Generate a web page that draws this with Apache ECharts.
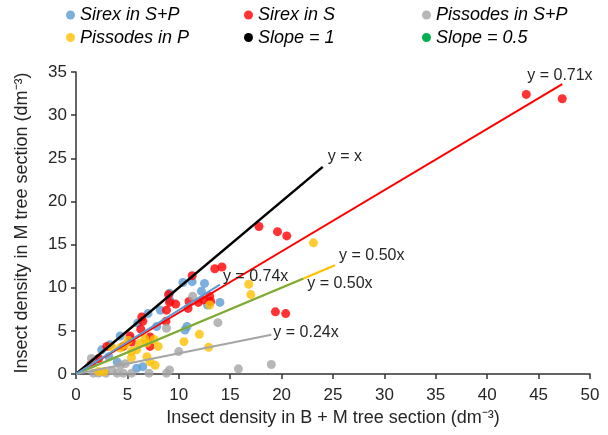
<!DOCTYPE html>
<html>
<head>
<meta charset="utf-8">
<script src="https://cdn.jsdelivr.net/npm/echarts@6/dist/echarts.min.js"></script>
<style>
  html, body { margin: 0; padding: 0; background: #fff; }
  #chart { width: 608px; height: 435px; }
</style>
</head>
<body>
<div id="chart"></div>
<script>
// points: [x, y]
var sirexSP = [[12.5,10.5],[14.0,8.3],[12.8,8.0],[11.3,10.7],[10.4,10.6],[9.1,9.35],[9.15,8.5],[8.2,7.4],
  [7.85,5.5],[10.8,5.5],[10.6,5.1],[5.25,4.1],[4.3,4.4],[3.3,3.4],[2.5,2.8],[4.0,1.4],[5.9,0.66],[6.5,0.85],
  [12.2,9.6],[7.0,7.0],[6.0,5.9],[1.8,1.5],[3.2,2.0]];
var sirexS = [[43.8,32.4],[47.3,31.9],[17.8,17.1],[19.6,16.5],[20.5,16.0],[19.4,7.2],[20.4,7.0],[13.5,12.2],
  [14.2,12.4],[11.3,11.4],[13.0,9.0],[13.1,8.4],[11.9,8.3],[11.0,8.4],[9.7,8.1],[9.1,8.3],[8.8,7.4],[9.0,9.2],
  [8.75,6.1],[6.4,6.6],[6.5,6.1],[6.3,5.2],[5.25,4.4],[5.4,3.7],[7.2,4.3],[7.2,3.2],[4.6,3.2],[3.0,3.2],
  [1.5,1.2],[2.2,1.8],[10.9,7.6],[12.4,8.6]];
var pissodesSP = [[19.0,1.1],[15.8,0.6],[13.8,5.95],[11.35,9.0],[10.0,2.6],[8.8,5.3],[4.8,1.2],[4.3,1.0],
  [9.1,0.46],[8.8,0.1],[7.1,0.1],[5.4,0.1],[4.6,0.1],[4.0,0.1],[2.9,0.1],[2.2,0.1],[1.7,0.1],[1.5,1.8],[3.5,0.4]];
var pissodesP = [[23.1,15.2],[16.8,10.4],[17.0,9.2],[13.0,8.0],[12.0,4.6],[10.5,3.75],[12.9,3.1],[8.0,3.2],
  [7.6,4.0],[6.7,4.1],[6.9,3.6],[6.2,3.55],[5.9,2.8],[5.4,2.6],[5.4,1.9],[6.9,2.0],[7.2,1.4],[7.7,1.0],
  [4.3,3.0],[3.5,3.1],[2.7,0.27],[4.8,3.4],[5.1,3.9],[2.2,0.3]];

// fitted lines y = k*x, drawn from 0 to end
var lineNames  = ['Slope = 1', 'fit S', 'fit P', 'Slope = 0.5', 'fit S+P pissodes', 'fit S+P sirex'];
var lineSlopes = [1, 0.71, 0.50, 0.50, 0.24, 0.74];
var lineEnds   = [24, 47.3, 25.2, 22.1, 19, 14];
var lineLabels = ['y = x', 'y = 0.71x', 'y = 0.50x', 'y = 0.50x', 'y = 0.24x', 'y = 0.74x'];
var lineColors = ['#000000', '#ff0000', '#ffc000', '#70ad47', '#a5a5a5', '#5b9bd5'];
var labelOffsets = [[0,-10], [-40,-9], [-1,-10], [-1,5], [-3,-2], [-2,-8]];

var xTicks = [0, 50, 5];
var yTicks = [0, 35, 5];

var myChart = echarts.init(document.getElementById('chart'));
var font = 'Liberation Sans, Arial, sans-serif';

function scatter(name, data, color) {
    return {
        name: name,
        type: 'scatter',
        data: data,
        symbolSize: 9,
        itemStyle: {color: color},
        z: 2
    };
}

var series = [
    scatter('Sirex in S+P', sirexSP, '#5b9bd5'),
    scatter('Sirex in S', sirexS, '#ff0000'),
    scatter('Pissodes in S+P', pissodesSP, '#a5a5a5'),
    scatter('Pissodes in P', pissodesP, '#ffc000')
];

lineNames.forEach(function (n, i) {
    var k = lineSlopes[i], e = lineEnds[i];
    series.push({
        name: n,
        type: 'line',
        data: [[0, 0], [e, k * e]],
        symbol: 'none',
        itemStyle: {color: lineColors[i]},
        lineStyle: {color: lineColors[i], width: i === 0 ? 2.5 : 2},
        endLabel: {
            show: true,
            formatter: lineLabels[i],
            offset: labelOffsets[i],
            distance: 5,
            color: '#262626',
            fontSize: 16,
            fontFamily: font
        },
        z: 3,
        silent: true
    });
});

function legend(left, items) {
    return {
        orient: 'vertical',
        left: left,
        top: 6,
        padding: 0,
        itemWidth: 9,
        itemHeight: 9,
        itemGap: 4.5,
        icon: 'circle',
        data: items,
        textStyle: {fontSize: 18, fontStyle: 'italic', color: '#000', fontFamily: font, lineHeight: 18}
    };
}

var option = {
    animation: false,
    backgroundColor: '#fff',
    legend: [
        legend(66, ['Sirex in S+P', 'Pissodes in P']),
        legend(244, ['Sirex in S', 'Slope = 1']),
        legend(422, ['Pissodes in S+P', {name: 'Slope = 0.5', itemStyle: {color: '#00b050'}}])
    ],
    grid: {left: 76, right: 18, top: 72, bottom: 61},
    xAxis: {
        type: 'value',
        min: xTicks[0], max: xTicks[1], interval: xTicks[2],
        name: 'Insect density in B + M tree section (dm\u207B\u00B3)',
        nameLocation: 'middle',
        nameGap: 25,
        nameTextStyle: {fontSize: 18, color: '#262626', fontFamily: font},
        splitLine: {show: false},
        axisLine: {lineStyle: {color: '#333', width: 1.5}},
        axisTick: {show: true, length: 5, lineStyle: {color: '#333', width: 1.5}},
        axisLabel: {fontSize: 17, color: '#262626', margin: 13, fontFamily: font}
    },
    yAxis: {
        type: 'value',
        min: yTicks[0], max: yTicks[1], interval: yTicks[2],
        name: 'Insect density in M tree section (dm\u207B\u00B3)',
        nameLocation: 'middle',
        nameGap: 45,
        nameTextStyle: {fontSize: 18, color: '#262626', fontFamily: font},
        splitLine: {show: false},
        axisLine: {show: true, lineStyle: {color: '#333', width: 1.5}},
        axisTick: {show: true, length: 5, lineStyle: {color: '#333', width: 1.5}},
        axisLabel: {fontSize: 17, color: '#262626', margin: 9, fontFamily: font}
    },
    series: series
};
myChart.setOption(option);
</script>
</body>
</html>
